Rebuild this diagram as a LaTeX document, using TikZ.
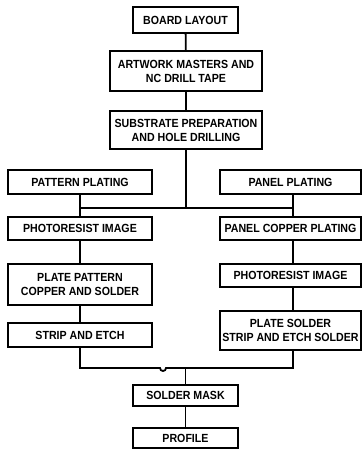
\documentclass[tikz,border=0pt]{standalone}
\usepackage{fontspec}
\setmainfont{Liberation Sans}
\newfontfamily\boxfont{Liberation Sans}[FakeStretch=0.9]
\begin{document}
\begin{tikzpicture}[x=1pt,y=-1pt,
  stepbox/.style={draw,line width=1.7pt,inner sep=0pt,align=center,font=\boxfont\bfseries\fontsize{11.8}{14}\selectfont},
  conn/.style={line width=1.8pt}]
\useasboundingbox (0,0) rectangle (363,449);
\newcommand\bx[6]{\node[stepbox,minimum width={#4-#2},minimum height={#5-#3}] (#1) at ({(#2+#4)/2},{(#3+#5)/2}) {#6};}
\bx{board}{133}{7}{238}{33}{BOARD LAYOUT}
\bx{art}{110}{51}{262}{91}{ARTWORK MASTERS AND\\NC DRILL TAPE}
\bx{sub}{110}{111}{262}{149}{SUBSTRATE PREPARATION\\AND HOLE DRILLING}
\bx{patt}{8}{170}{152}{194}{PATTERN PLATING}
\bx{panel}{220}{170}{361}{194}{PANEL PLATING}
\bx{phl}{8}{217}{152}{240}{PHOTORESIST IMAGE}
\bx{pcop}{220}{217}{361}{240}{PANEL COPPER PLATING}
\bx{ppat}{8}{264}{152}{305}{PLATE PATTERN\\COPPER AND SOLDER}
\bx{phr}{220}{264}{361}{287}{PHOTORESIST IMAGE}
\bx{strip}{8}{323}{152}{347}{STRIP AND ETCH}
\bx{psol}{220}{311}{361}{350}{PLATE SOLDER\\STRIP AND ETCH SOLDER}
\bx{mask}{133}{385}{238}{406}{SOLDER MASK}
\bx{prof}{133}{428}{238}{448}{PROFILE}
\coordinate (jl) at (80,208);
\coordinate (jr) at (293,208);
\coordinate (jc) at (sub.south |- jl);
\coordinate (bl) at (80,368);
\coordinate (br) at (293,368);
\coordinate (bc) at (mask.north |- bl);
\coordinate (h1) at (160,368);
\draw[conn] (board) -- (art);
\draw[conn] (art) -- (sub);
\draw[conn] (sub.south) -- (jc);
\draw[conn] (jl) -- (jr);
\draw[conn] (patt.south -| jl) -- (phl.north -| jl);
\draw[conn] (panel.south -| jr) -- (pcop.north -| jr);
\draw[conn] (phl) -- (ppat);
\draw[conn] (ppat) -- (strip);
\draw[conn] (pcop.south -| jr) -- (phr.north -| jr);
\draw[conn] (phr.south -| jr) -- (psol.north -| jr);
\draw[conn] (strip.south -| bl) -- (bl) -- (h1) arc[start angle=180,end angle=0,radius=3] -- (br) -- (psol.south -| br);
\draw[conn] (bc) -- (mask);
\draw[conn] (mask) -- (prof);
\end{tikzpicture}
\end{document}
